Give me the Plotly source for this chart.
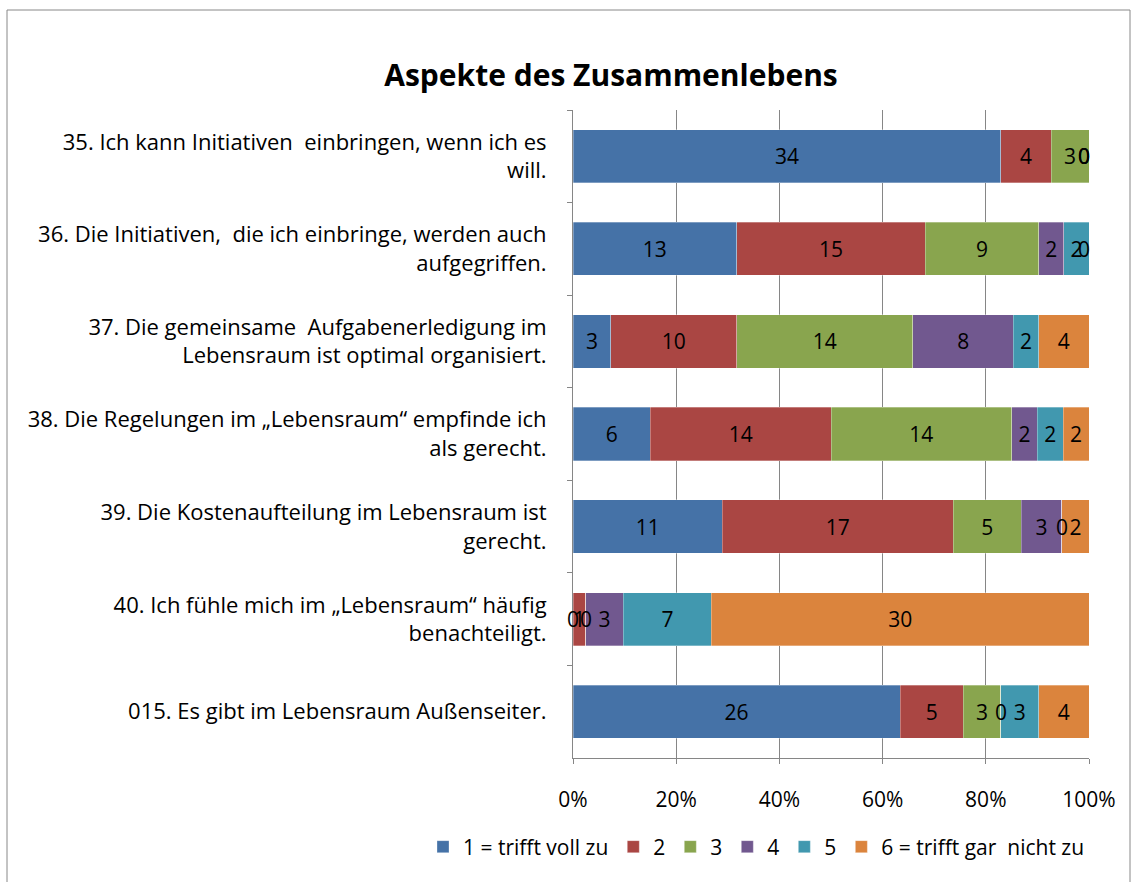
import plotly.graph_objects as go

categories = [
    "35. Ich kann Initiativen  einbringen, wenn ich es<br>will.",
    "36. Die Initiativen,  die ich einbringe, werden auch<br>aufgegriffen.",
    "37. Die gemeinsame  Aufgabenerledigung im<br>Lebensraum ist optimal organisiert.",
    "38. Die Regelungen im „Lebensraum“ empfinde ich<br>als gerecht.",
    "39. Die Kostenaufteilung im Lebensraum ist<br>gerecht.",
    "40. Ich fühle mich im „Lebensraum“ häufig<br>benachteiligt.",
    "015. Es gibt im Lebensraum Außenseiter.",
]
series_names = ["1 = trifft voll zu", "2", "3", "4", "5", "6 = trifft gar  nicht zu"]
s1 = [34, 13, 3, 6, 11, 0, 26]
s2 = [4, 15, 10, 14, 17, 1, 5]
s3 = [3, 9, 14, 14, 5, 0, 3]
s4 = [0, 2, 8, 2, 3, 3, 0]
s5 = [0, 2, 2, 2, 0, 7, 3]
s6 = [0, 0, 4, 2, 2, 30, 4]
colors = ["#4572A7", "#AA4643", "#89A54E", "#71588F", "#4198AF", "#DB843D"]
x_ticks = [0, 20, 40, 60, 80, 100]
x_ticktext = ["0%", "20%", "40%", "60%", "80%", "100%"]

series = [s1, s2, s3, s4, s5, s6]
FONT = "Open Sans"
FS = 21

fig = go.Figure()
for name, vals, col in zip(series_names, series, colors):
    fig.add_trace(go.Bar(
        y=categories, x=vals, name=name, orientation="h",
        marker=dict(color=col, line=dict(color="rgba(255,255,255,0.6)", width=0.5)),
        text=[str(v) if v != 0 else "" for v in vals],
        textposition="inside", insidetextanchor="middle", constraintext="none",
        textfont=dict(family=FONT, size=FS, color="black"),
        hoverinfo="skip",
    ))

# labels for zero-valued segments (placed at their cumulative position)
annotations = []
totals = [sum(s[i] for s in series) for i in range(len(categories))]
for i, cat in enumerate(categories):
    cum = 0
    for vals in series:
        v = vals[i]
        if v == 0:
            pos = 100.0 * cum / totals[i]
            annotations.append(dict(
                x=pos, y=cat, xref="x", yref="y", text="0", showarrow=False,
                xanchor="right" if pos > 99.9 else "center",
                xshift=3 if pos > 99.9 else 0,
                font=dict(family=FONT, size=FS, color="black"),
            ))
        cum += v

# outer border
fig.add_shape(type="rect", xref="paper", yref="paper",
              x0=(7 - 573) / 516, x1=(1130 - 573) / 516,
              y0=(758 - 890) / 648, y1=(758 - 10) / 648,
              line=dict(color="#888888", width=1), fillcolor="rgba(0,0,0,0)", layer="below")

fig.update_layout(
    barmode="stack", barnorm="percent", bargap=0.425,
    width=1138, height=882,
    margin=dict(l=573, r=49, t=110, b=124),
    paper_bgcolor="white", plot_bgcolor="white",
    font=dict(family=FONT, size=FS, color="black"),
    title=dict(text="<b>Aspekte des Zusammenlebens</b>", x=611 / 1138, xanchor="center",
               y=1 - 75 / 882, yanchor="middle", font=dict(family=FONT, size=30, color="black")),
    legend=dict(orientation="h", xref="paper", x=(423 - 573) / 516, xanchor="left",
                yref="paper", y=(758 - 847) / 648, yanchor="middle",
                font=dict(family=FONT, size=FS), traceorder="normal", itemwidth=30),
    annotations=annotations,
    showlegend=True,
)
fig.update_xaxes(range=[0, 100], tickvals=x_ticks, ticktext=x_ticktext,
                 showgrid=True, gridcolor="#868686", gridwidth=1,
                 showline=True, linecolor="#868686", linewidth=1,
                 ticks="outside", ticklen=5, tickcolor="#868686", ticklabelstandoff=18,
                 tickfont=dict(family=FONT, size=FS), zeroline=False, fixedrange=True)
fig.update_yaxes(autorange="reversed", showline=True, linecolor="#868686", linewidth=1,
                 ticks="outside", ticklen=5, tickcolor="#868686", tickson="boundaries",
                 ticklabelstandoff=21,
                 tickfont=dict(family=FONT, size=22), showgrid=False, fixedrange=True)

fig.write_html("out.html", config={"displayModeBar": False},
               post_script="document.body.style.margin='0px';")
